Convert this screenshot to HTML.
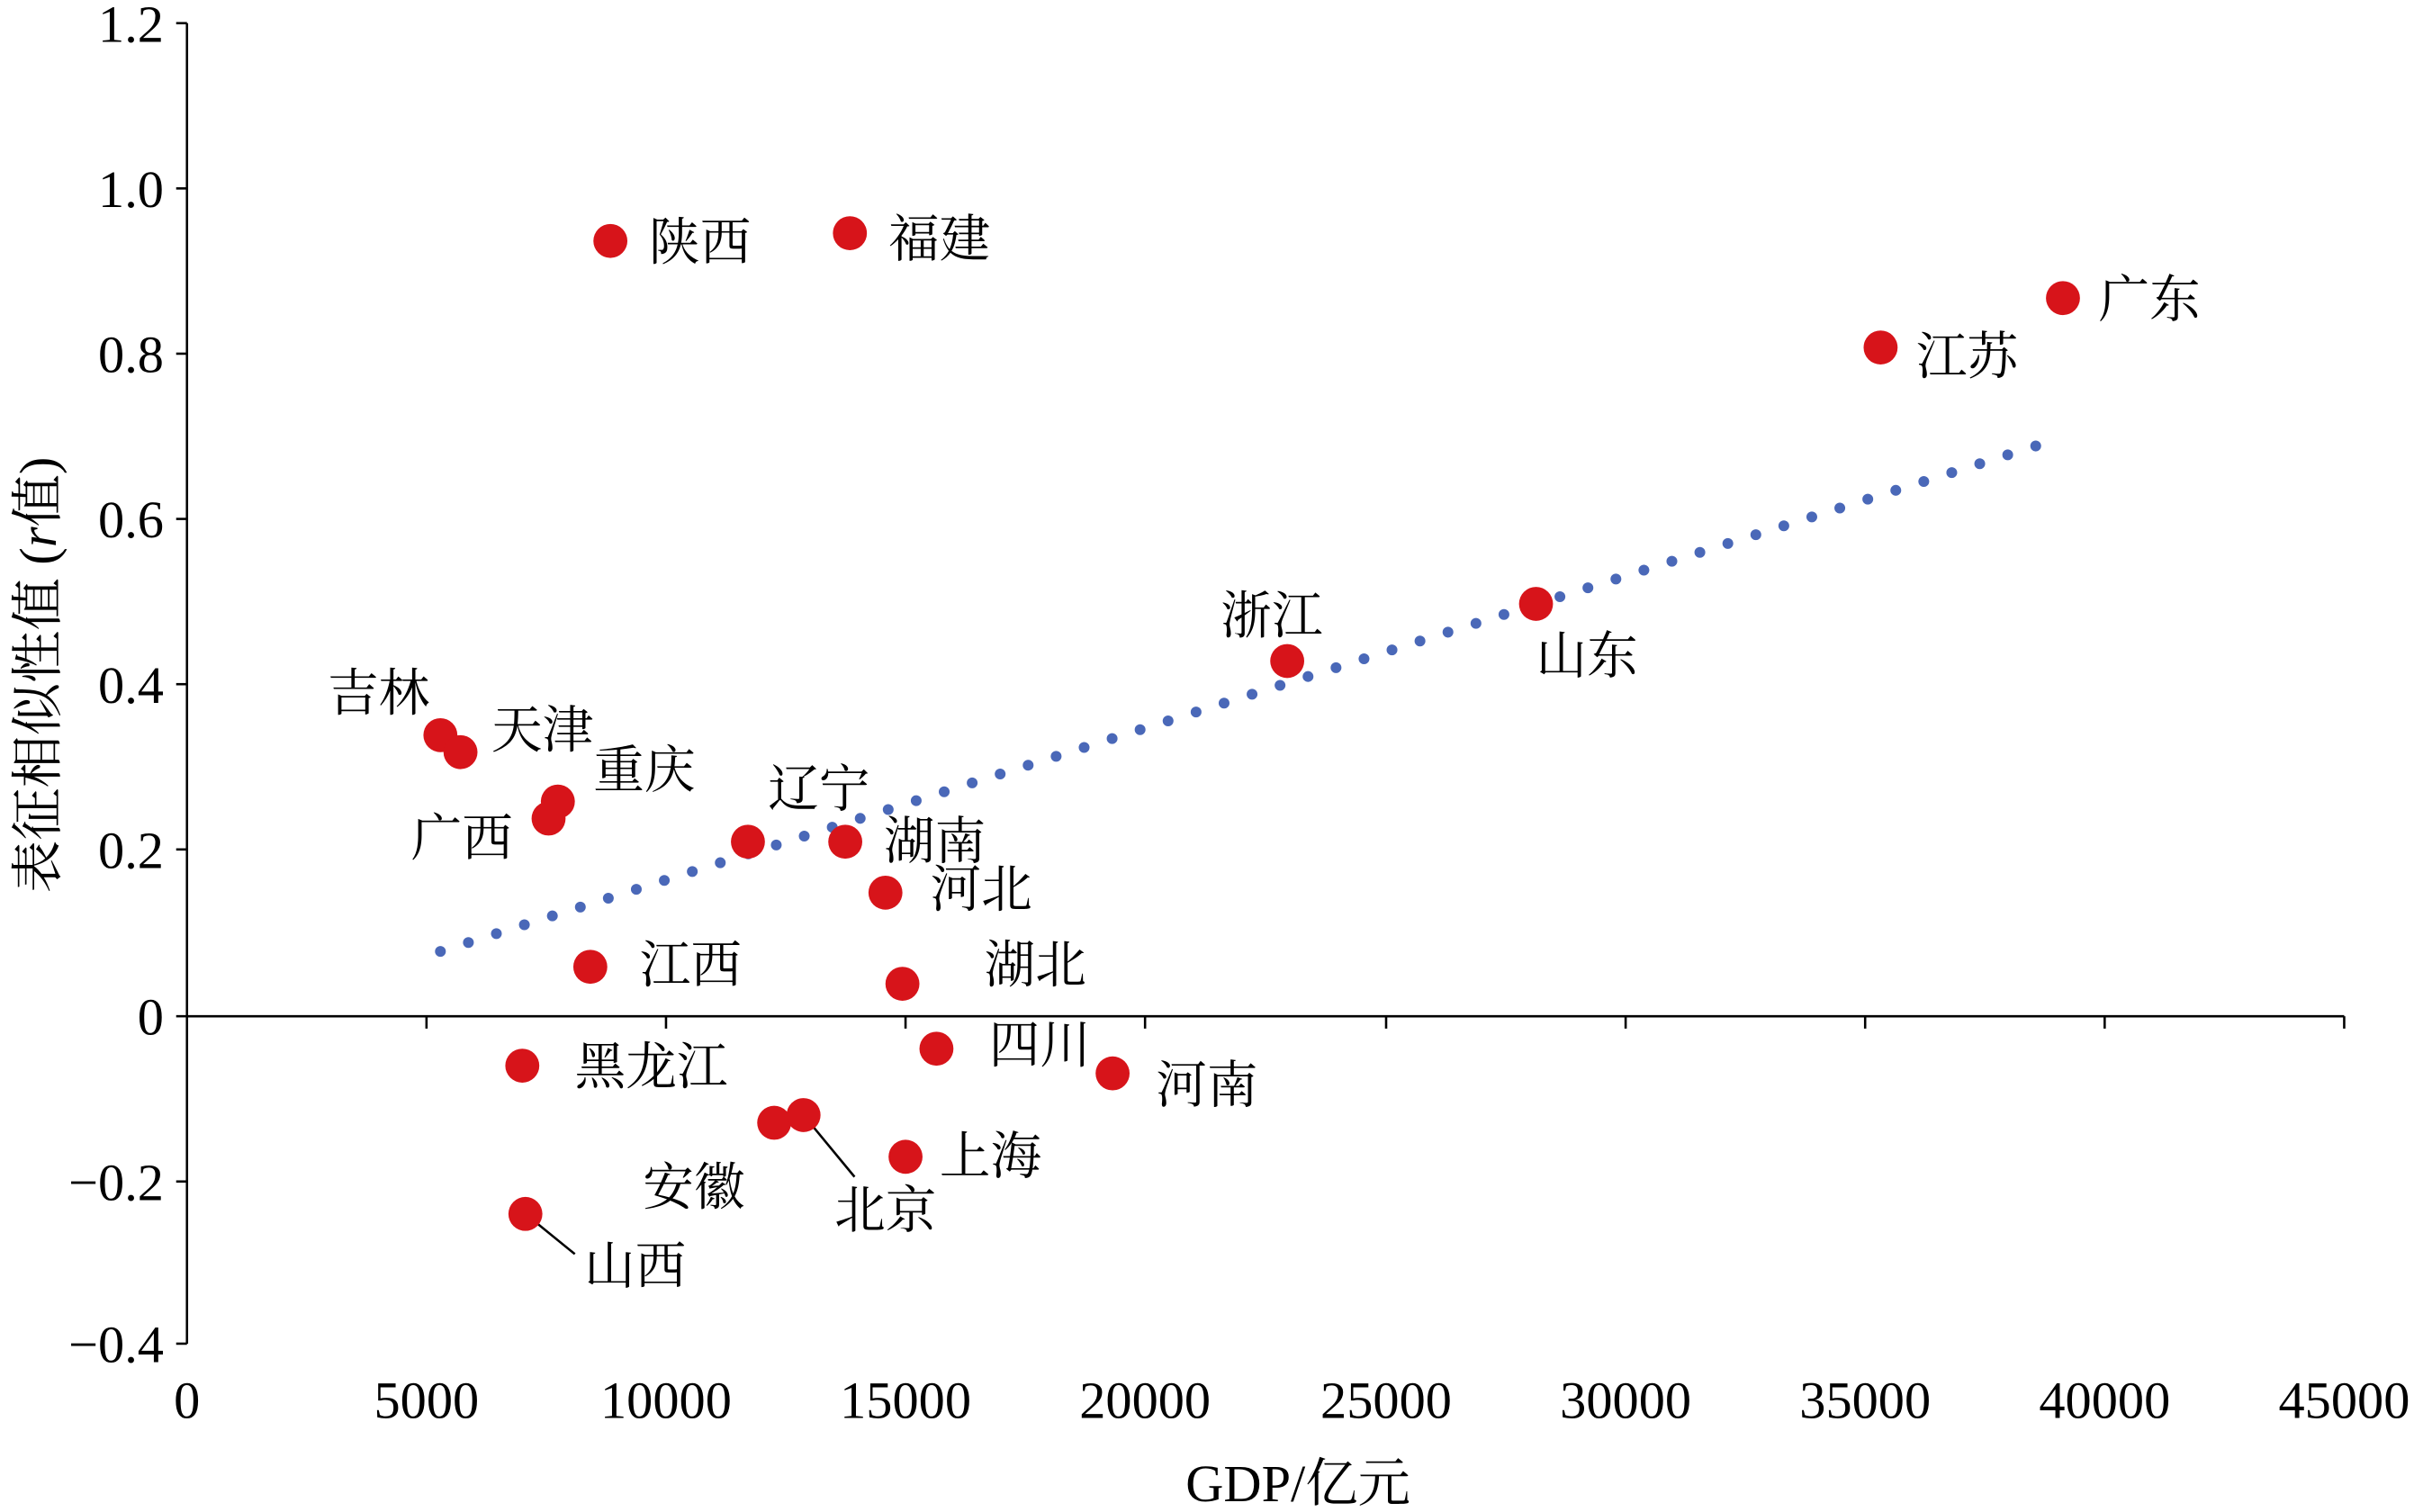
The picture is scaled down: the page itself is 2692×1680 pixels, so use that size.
<!DOCTYPE html>
<html><head><meta charset="utf-8"><style>html,body{margin:0;padding:0;background:#fff}svg{display:block}</style></head><body>
<svg width="2692" height="1680" viewBox="0 0 1568 979" preserveAspectRatio="none" xmlns="http://www.w3.org/2000/svg" font-family="'Liberation Serif','Noto Serif CJK SC',serif">
<g stroke="#000" stroke-width="1.5" fill="none">
<line x1="121" y1="15" x2="121" y2="870"/>
<line x1="121" y1="658" x2="1517" y2="658"/>
<line x1="114" y1="15" x2="121" y2="15"/><line x1="114" y1="122" x2="121" y2="122"/><line x1="114" y1="229" x2="121" y2="229"/><line x1="114" y1="336" x2="121" y2="336"/><line x1="114" y1="443" x2="121" y2="443"/><line x1="114" y1="550" x2="121" y2="550"/><line x1="114" y1="658" x2="121" y2="658"/><line x1="114" y1="765" x2="121" y2="765"/><line x1="114" y1="870" x2="121" y2="870"/>
<line x1="276" y1="658" x2="276" y2="666"/><line x1="431" y1="658" x2="431" y2="666"/><line x1="586" y1="658" x2="586" y2="666"/><line x1="741" y1="658" x2="741" y2="666"/><line x1="897" y1="658" x2="897" y2="666"/><line x1="1052" y1="658" x2="1052" y2="666"/><line x1="1207" y1="658" x2="1207" y2="666"/><line x1="1362" y1="658" x2="1362" y2="666"/><line x1="1517" y1="658" x2="1517" y2="666"/>
</g>
<g font-size="34" text-anchor="end">
<text x="106" y="27">1.2</text><text x="106" y="134">1.0</text><text x="106" y="241">0.8</text><text x="106" y="348">0.6</text><text x="106" y="455">0.4</text><text x="106" y="562">0.2</text><text x="106" y="670">0</text><text x="106" y="777">−0.2</text><text x="106" y="882">−0.4</text>
</g>
<g font-size="34" text-anchor="middle">
<text x="121" y="918">0</text><text x="276" y="918">5000</text><text x="431" y="918">10000</text><text x="586" y="918">15000</text><text x="741" y="918">20000</text><text x="897" y="918">25000</text><text x="1052" y="918">30000</text><text x="1207" y="918">35000</text><text x="1362" y="918">40000</text><text x="1517" y="918">45000</text>
<text x="840" y="972">GDP/亿元</text>
<text transform="translate(36,437) rotate(-90)">表征相似性值 (<tspan font-style="italic">r</tspan>值)</text>
</g>
<line x1="285" y1="616" x2="1323" y2="287" stroke="#4a68b8" stroke-width="7" stroke-linecap="round" stroke-dasharray="0 19"/>
<g stroke="#000" stroke-width="1.5"><line x1="520" y1="722" x2="553" y2="762"/><line x1="340" y1="786" x2="372" y2="812"/></g>
<g fill="#d7141a">
<circle cx="395" cy="156" r="11"/><circle cx="550" cy="151" r="11"/><circle cx="1335" cy="193" r="11"/><circle cx="1217" cy="225" r="11"/><circle cx="833" cy="428" r="11"/><circle cx="994" cy="391" r="11"/><circle cx="285" cy="476" r="11"/><circle cx="298" cy="487" r="11"/><circle cx="361" cy="519" r="11"/><circle cx="355" cy="530" r="11"/><circle cx="484" cy="545" r="11"/><circle cx="547" cy="545" r="11"/><circle cx="573" cy="578" r="11"/><circle cx="382" cy="626" r="11"/><circle cx="584" cy="637" r="11"/><circle cx="338" cy="690" r="11"/><circle cx="606" cy="679" r="11"/><circle cx="720" cy="695" r="11"/><circle cx="501" cy="727" r="11"/><circle cx="520" cy="722" r="11"/><circle cx="586" cy="749" r="11"/><circle cx="340" cy="786" r="11"/>
</g>
<g font-size="33" font-family="'Noto Serif CJK SC','Noto Sans CJK SC',serif">
<text x="420" y="168">陕西</text><text x="575" y="166">福建</text><text x="1358" y="205">广东</text><text x="1240" y="242">江苏</text><text x="790" y="410">浙江</text><text x="994" y="436">山东</text><text x="212" y="460">吉林</text><text x="318" y="484">天津</text><text x="384" y="510">重庆</text><text x="266" y="554">广西</text><text x="497" y="522">辽宁</text><text x="572" y="556">湖南</text><text x="602" y="587">河北</text><text x="414" y="636">江西</text><text x="637" y="636">湖北</text><text x="372" y="702">黑龙江</text><text x="640" y="688">四川</text><text x="748" y="714">河南</text><text x="416" y="780">安徽</text><text x="540" y="795">北京</text><text x="608" y="760">上海</text><text x="378" y="831">山西</text>
</g>
</svg>
</body></html>
